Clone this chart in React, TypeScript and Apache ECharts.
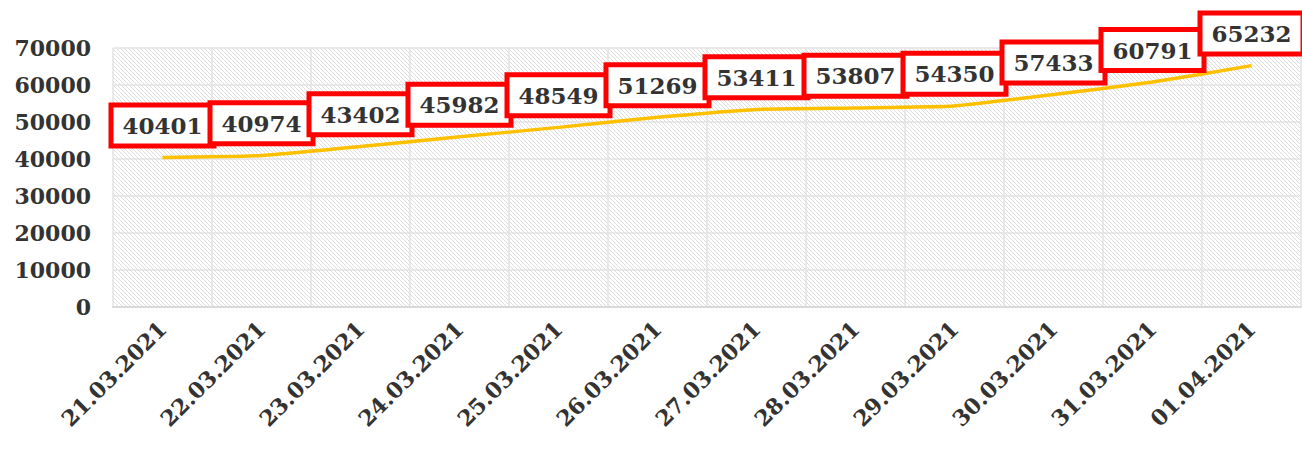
import React, { useEffect, useRef } from "react";
import * as echarts from "echarts";

const categories = [
  "21.03.2021", "22.03.2021", "23.03.2021", "24.03.2021", "25.03.2021", "26.03.2021",
  "27.03.2021", "28.03.2021", "29.03.2021", "30.03.2021", "31.03.2021", "01.04.2021",
];
const values = [40401, 40974, 43402, 45982, 48549, 51269, 53411, 53807, 54350, 57433, 60791, 65232];
const yMin = 0;
const yMax = 70000;
const yInterval = 10000;

function makeHatch(): string {
  const c = document.createElement("canvas");
  c.width = 8;
  c.height = 8;
  const ctx = c.getContext("2d")!;
  ctx.fillStyle = "#ffffff";
  ctx.fillRect(0, 0, 8, 8);
  ctx.strokeStyle = "#dedede";
  ctx.lineWidth = 1;
  for (let k = -8; k <= 16; k += 4) {
    ctx.beginPath();
    ctx.moveTo(k, 0);
    ctx.lineTo(k + 8, 8);
    ctx.stroke();
  }
  return c.toDataURL();
}

export default function App() {
  const ref = useRef<HTMLDivElement>(null);
  useEffect(() => {
    if (!ref.current) return;
    const chart = echarts.init(ref.current, undefined, { renderer: "svg" });
    const font = "'DejaVu Serif', Georgia, serif";
    chart.setOption({
      animation: false,
      grid: {
        left: 113,
        right: 1,
        top: 48,
        bottom: 142,
        show: true,
        borderWidth: 0,
        backgroundColor: { image: makeHatch(), repeat: "repeat" },
      },
      xAxis: {
        type: "category",
        data: categories,
        boundaryGap: true,
        axisLine: { show: true, lineStyle: { color: "#d9d9d9", width: 2 } },
        axisTick: { show: false },
        splitLine: { show: true, interval: 0, lineStyle: { color: "#e3e3e3", width: 1.5 } },
        axisLabel: {
          interval: 0,
          rotate: 45,
          margin: 18,
          color: "#333333",
          fontFamily: font,
          fontWeight: "bold",
          fontSize: 22,
        },
      },
      yAxis: {
        type: "value",
        min: yMin,
        max: yMax,
        interval: yInterval,
        axisLine: { show: false },
        axisTick: { show: false },
        splitLine: { show: true, lineStyle: { color: "#e3e3e3", width: 1.5 } },
        axisLabel: {
          margin: 22,
          color: "#333333",
          fontFamily: font,
          fontWeight: "bold",
          fontSize: 22,
          formatter: (v: number) => String(v),
        },
      },
      series: [
        {
          type: "line",
          data: values,
          smooth: 0.15,
          showSymbol: true,
          symbolSize: 0.1,
          lineStyle: { color: "#FFC000", width: 3.5 },
          itemStyle: { color: "#FFC000" },
          label: {
            show: true,
            position: "top",
            distance: 13,
            offset: [0, -18],
            color: "#333333",
            fontFamily: font,
            fontWeight: "bold",
            fontSize: 23,
            width: 88,
            height: 28,
            lineHeight: 28,
            align: "center",
            verticalAlign: "middle",
            padding: [4, 5],
            backgroundColor: "#ffffff",
            borderColor: "#ff0000",
            borderWidth: 5,
          },
        },
      ],
    });
    return () => chart.dispose();
  }, []);
  return (
    <div
      ref={ref}
      style={{ position: "absolute", left: 0, top: 0, width: 1302, height: 449 }}
    />
  );
}
